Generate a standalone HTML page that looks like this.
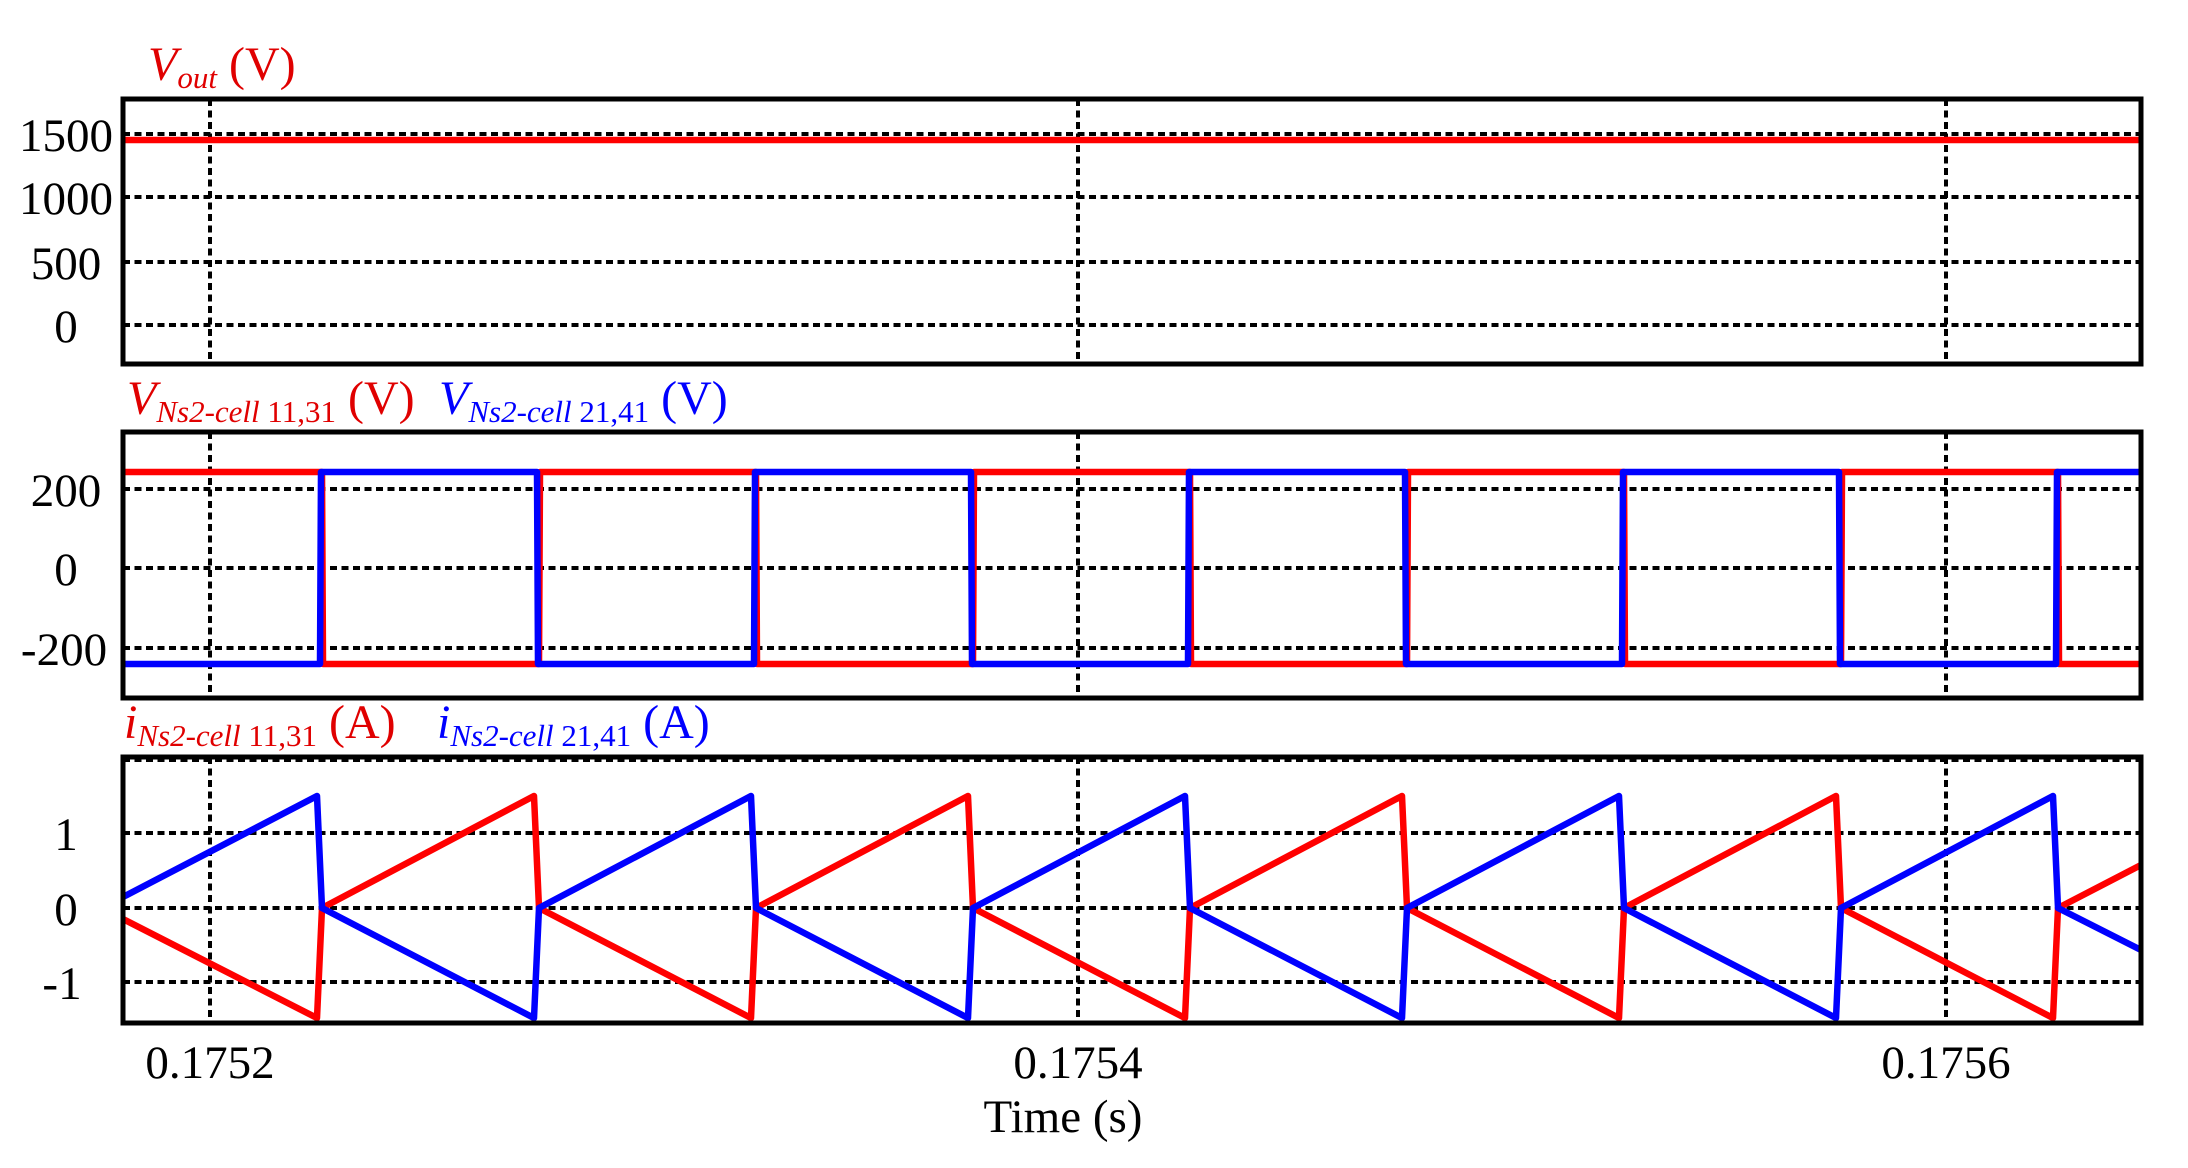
<!DOCTYPE html>
<html><head><meta charset="utf-8"><style>
html,body{margin:0;padding:0;background:#fff;}
svg{display:block;}
text{font-family:"Liberation Serif",serif;}
</style></head><body>
<svg width="2188" height="1168" viewBox="0 0 2188 1168" xmlns="http://www.w3.org/2000/svg">
<g stroke="#000" stroke-width="4" stroke-dasharray="7 4.5" fill="none">
<path d="M123 134H2141M123 197H2141M123 262H2141M123 325H2141"/>
<path d="M123 489H2141M123 568H2141M123 648H2141"/>
<path d="M123 760H2141M123 833H2141M123 908H2141M123 982H2141"/>
<path d="M210 99V364M1078 99V364M1946 99V364"/>
<path d="M210 432V698M1078 432V698M1946 432V698"/>
<path d="M210 757V1023M1078 757V1023M1946 757V1023"/>
</g>
<g fill="none" stroke-width="6.5" stroke-linejoin="round">
<path stroke="#ff0000" d="M123 140H2141"/>
<polyline stroke="#ff0000" points="123,472 322,472 323,664 539,664 540,472 756,472 757,664 973,664 974,472 1190,472 1191,664 1407,664 1408,472 1624,472 1625,664 1841,664 1842,472 2058,472 2059,664 2141,664"/>
<polyline stroke="#0000ff" points="123,664 320,664 321,472 537,472 538,664 754,664 755,472 971,472 972,664 1188,664 1189,472 1405,472 1406,664 1622,664 1623,472 1839,472 1840,664 2056,664 2057,472 2141,472"/>
<polyline stroke="#ff0000" points="123,919 317,1018 322,908 534,796 539,908 751,1018 756,908 968,796 973,908 1185,1018 1190,908 1402,796 1407,908 1619,1018 1624,908 1836,796 1841,908 2053,1018 2058,908 2141,865"/>
<polyline stroke="#0000ff" points="123,897 317,796 322,908 534,1018 539,908 751,796 756,908 968,1018 973,908 1185,796 1190,908 1402,1018 1407,908 1619,796 1624,908 1836,1018 1841,908 2053,796 2058,908 2141,950"/>
</g>
<g fill="none" stroke="#000" stroke-width="5">
<rect x="123" y="99" width="2018" height="265"/>
<rect x="123" y="432" width="2018" height="266"/>
<rect x="123" y="757" width="2018" height="266"/>
</g>
<g font-size="47" text-anchor="middle" fill="#000">
<text x="66" y="151">1500</text>
<text x="66" y="214">1000</text>
<text x="66" y="279">500</text>
<text x="66" y="342">0</text>
<text x="66" y="506">200</text>
<text x="66" y="585">0</text>
<text x="64" y="665">-200</text>
<text x="66" y="850">1</text>
<text x="66" y="925">0</text>
<text x="62" y="999">-1</text>
<text x="210" y="1078">0.1752</text>
<text x="1078" y="1078">0.1754</text>
<text x="1946" y="1078">0.1756</text>
<text x="1063" y="1132">Time (s)</text>
</g>
<g font-size="48">
<text x="148" y="80" fill="#e00000"><tspan font-style="italic">V</tspan><tspan font-size="31" font-style="italic" dy="8">out</tspan><tspan dy="-8"> (V)</tspan></text>
<text x="127" y="414" fill="#e00000"><tspan font-style="italic">V</tspan><tspan font-size="31" dy="8"><tspan font-style="italic">Ns2-cell</tspan> 11,31</tspan><tspan dy="-8"> (V)</tspan></text>
<text x="439" y="414" fill="#0000ff"><tspan font-style="italic">V</tspan><tspan font-size="31" dy="8"><tspan font-style="italic">Ns2-cell</tspan> 21,41</tspan><tspan dy="-8"> (V)</tspan></text>
<text x="124" y="738" fill="#e00000"><tspan font-style="italic">i</tspan><tspan font-size="31" dy="8"><tspan font-style="italic">Ns2-cell</tspan> 11,31</tspan><tspan dy="-8"> (A)</tspan></text>
<text x="437" y="738" fill="#0000ff"><tspan font-style="italic">i</tspan><tspan font-size="31" dy="8"><tspan font-style="italic">Ns2-cell</tspan> 21,41</tspan><tspan dy="-8"> (A)</tspan></text>
</g>
</svg>
</body></html>
